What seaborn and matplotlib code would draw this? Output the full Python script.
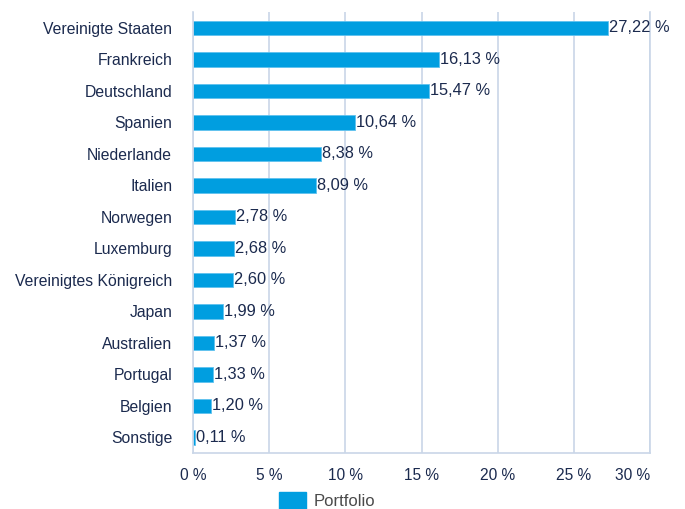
import pandas as pd
import seaborn as sns
import matplotlib.pyplot as plt
from matplotlib.patches import Patch

# Data
countries = ['Vereinigte Staaten', 'Frankreich', 'Deutschland', 'Spanien', 'Niederlande',
             'Italien', 'Norwegen', 'Luxemburg', 'Vereinigtes Königreich', 'Japan',
             'Australien', 'Portugal', 'Belgien', 'Sonstige']
weights = [27.22, 16.13, 15.47, 10.64, 8.38, 8.09, 2.78, 2.68, 2.60, 1.99, 1.37, 1.33, 1.20, 0.11]
xticks = [0, 5, 10, 15, 20, 25, 30]
xticklabels = ['0 %', '5 %', '10 %', '15 %', '20 %', '25 %', '30 %']

bar_color = '#009ee0'
line_color = '#c9d6e8'
text_color = '#1b2a4e'

df = pd.DataFrame({'land': countries, 'anteil': weights})

sns.set_style('white')
plt.rcParams['font.family'] = ['Liberation Sans', 'DejaVu Sans']

fig = plt.figure(figsize=(6.85, 5.09), dpi=100)
ax = fig.add_axes([0.2818, 0.110, 0.6672, 0.8664])

sns.barplot(data=df, x='anteil', y='land', orient='h', color=bar_color, saturation=1,
            width=0.46, edgecolor='#5fc2ee', linewidth=0.6, ax=ax)

ax.set_xlim(0, 30)
ax.set_ylim(len(countries) - 0.5, -0.5)
ax.set_xlabel('')
ax.set_ylabel('')

# vertical grid
ax.set_xticks(xticks)
ax.set_xticklabels(xticklabels, fontsize=11.2, color=text_color)
ax.get_xticklabels()[-1].set_horizontalalignment('right')
ax.xaxis.grid(True, color=line_color, linewidth=1.2)
ax.set_axisbelow(True)
ax.tick_params(axis='x', length=0, pad=11)

# category labels and separator ticks
ax.tick_params(axis='y', which='major', length=0, pad=15, labelsize=11.3, labelcolor=text_color)
ax.set_yticks([i - 0.5 for i in range(len(countries) + 1)], minor=True)
ax.tick_params(axis='y', which='minor', length=11, width=1.2, color=line_color, direction='out')

for side in ['top']:
    ax.spines[side].set_visible(False)
for side in ['left', 'bottom', 'right']:
    ax.spines[side].set_color(line_color)
    ax.spines[side].set_linewidth(1.2)

# value labels
for i, v in enumerate(weights):
    ax.text(v + 0.06, i, f'{v:.2f} %'.replace('.', ','), va='center', ha='left',
            fontsize=11.8, color=text_color)

fig.legend(handles=[Patch(facecolor=bar_color, edgecolor=bar_color, label='Portfolio')],
           loc='center', bbox_to_anchor=(0.478, 0.017), frameon=False, fontsize=12,
           handlelength=1.6, handleheight=1.2, handletextpad=0.5, labelcolor='#4a4a4a')

plt.savefig('out.png', dpi=100)
